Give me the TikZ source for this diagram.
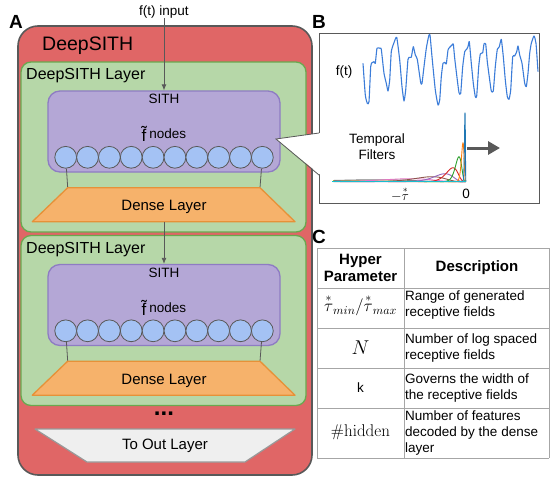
\RequirePackage{fix-cm}
\documentclass[tikz,border=0pt]{standalone}
\usepackage{amsmath}
\usepackage[no-math]{fontspec}
\setmainfont{Liberation Sans}
\usetikzlibrary{arrows.meta,calc,positioning}
\definecolor{sithred}{HTML}{E06666}
\definecolor{edgegray}{HTML}{595959}
\definecolor{layergreen}{HTML}{B6D7A8}
\definecolor{layeredge}{HTML}{6AA84F}
\definecolor{sithpurple}{HTML}{B4A7D6}
\definecolor{sithedge}{HTML}{8E7CC3}
\definecolor{nodeblue}{HTML}{A4C2F4}
\definecolor{denseorange}{HTML}{F6B26B}
\definecolor{denseedge}{HTML}{E69138}
\definecolor{outgray}{HTML}{EFEFEF}
\definecolor{outedge}{HTML}{999999}
\definecolor{signalblue}{HTML}{3C7DD9}
\definecolor{gridgray}{HTML}{A6A6A6}
\definecolor{fC0}{HTML}{1F77B4}
\definecolor{fC1}{HTML}{FF7F0E}
\definecolor{fC2}{HTML}{2CA02C}
\definecolor{fC3}{HTML}{D62728}
\definecolor{fC4}{HTML}{9467BD}
\definecolor{fC5}{HTML}{8C564B}
\definecolor{fC6}{HTML}{E377C2}
\definecolor{fC7}{HTML}{7F7F7F}
\definecolor{fC8}{HTML}{BCBD22}
\definecolor{fC9}{HTML}{17BECF}
\newcommand{\setfs}[2]{\fontsize{#1}{#2}\selectfont}

\begin{document}
\begin{tikzpicture}[x=1pt,y=-1pt,
  outerbox/.style={draw=edgegray,line width=1.6pt,fill=sithred,rounded corners=20pt,inner sep=0pt},
  layerbox/.style={draw=layeredge,line width=1.3pt,fill=layergreen,rounded corners=10pt,inner sep=0pt,minimum width=285pt,minimum height=170pt},
  sithbox/.style={draw=sithedge,line width=1.3pt,fill=sithpurple,rounded corners=12pt,inner sep=0pt,minimum width=232pt,minimum height=81pt},
  fnode/.style={circle,draw=edgegray,line width=0.8pt,fill=nodeblue,minimum size=21.8pt,inner sep=0pt},
  denselayer/.style={draw=denseedge,line width=1.3pt,fill=denseorange,line join=round},
  outlayer/.style={draw=outedge,line width=1.2pt,fill=outgray,line join=round},
  wire/.style={draw=edgegray,line width=0.8pt},
  feed/.style={wire,-{Latex[length=6pt,width=5pt]}},
  lbl/.style={inner sep=0pt,font=\setfs{13.5}{16}},
  panel/.style={inner sep=0pt,font=\bfseries\setfs{19}{19}},
  filter/.style={line width=0.9pt,line join=round},
  grid/.style={draw=gridgray,line width=1pt},
  hdr/.style={inner sep=0pt,font=\bfseries\setfs{15}{17},align=center},
  desc/.style={inner sep=0pt,anchor=west,align=left,font=\setfs{13.5}{16}}]
\useasboundingbox (0,0) rectangle (552,479);

\node[panel] (labA) at (16,22) {A};
\node[outerbox,minimum width=294pt,minimum height=449pt] (deepsith) at (165,250.5) {};
\node[inner sep=0pt,anchor=west,font=\setfs{19.5}{20}] (deepsithtxt) at (42,46) {DeepSITH};
\node[lbl] (input) at (164,12) {f(t) input};

\foreach \l/\dy in {1/0,2/173.5}{
  \node[layerbox] (layer\l) at (163.5,147+\dy) {};
  \node[inner sep=0pt,anchor=west,font=\setfs{16}{16}] (layertxt\l) at (26,76+\dy) {DeepSITH Layer};
  \node[sithbox] (sith\l) at (164,131.5+\dy) {};
  \node[lbl] (sithtxt\l) at (164,99+\dy) {SITH};
  \node[lbl] (ftilde\l) at (164,134+\dy) {\raisebox{-3pt}{\setfs{17}{17}f\char"0303}\hspace{3pt}nodes};
  \foreach \i in {1,...,10}
    \node[fnode] (f\l-\i) at ({65.7+21.85*(\i-1)},157.3+\dy) {};
  \coordinate (dtl\l) at (67.7,187.7+\dy);
  \coordinate (dtr\l) at (260,187.7+\dy);
  \coordinate (dbr\l) at (295,221.7+\dy);
  \coordinate (dbl\l) at (32.3,221.7+\dy);
  \coordinate (dense\l) at (164,221.7+\dy);
  \draw[wire] (f\l-1) -- (dtl\l);
  \draw[wire] (f\l-10) -- (dtr\l);
  \draw[denselayer] (dtl\l) -- (dtr\l) -- (dbr\l) -- (dbl\l) -- cycle;
  \node[inner sep=0pt,font=\setfs{15}{15}] (densetxt\l) at (164,207+\dy) {Dense Layer};
}
\draw[feed] (input) -- (sith1);
\draw[feed] (dense1) -- (sith2.north);

\node[inner sep=0pt,font=\bfseries\setfs{24}{24}] (dots) at (164,414) {...};
\draw[outlayer] (35,429) -- (295,429) -- (245,462) -- (87,462) -- cycle;
\node[inner sep=0pt,font=\setfs{15}{15}] (outtxt) at (165,446) {To Out Layer};

\node[panel] (labB) at (319,22) {B};
\node[draw=edgegray,line width=1pt,fill=white,minimum width=220pt,minimum height=170pt,inner sep=0pt] (panelB) at (429,118) {};
\coordinate (tip) at (276,139);
\coordinate (cu) at (319,133);
\coordinate (cl) at (319,175);
\fill[white] (tip) -- ($(cu)+(1.5,0)$) -- ($(cl)+(1.5,0)$) -- cycle;
\draw[wire,line join=miter] (cu) -- (tip) -- (cl);

\draw[signalblue,line width=1.1pt,line join=round] plot[smooth,tension=0.3] coordinates {
(363,63.3) (365.3,95) (367.3,103.3) (369,101.7) (370.7,66.7) (372,62.7) (374,61.7) (375.3,63.3)
(377,48.3) (380,48.3) (381.3,49.3) (384,73.3) (386.3,83.3) (388,91) (389.7,80) (391.3,51.7)
(394,42.7) (396.7,37.3) (399.7,60) (402,86.7) (404,101) (405.7,90) (408,59.3) (410,57.3)
(411.3,57.3) (413.3,46.7) (415.3,55) (417.3,59.3) (420.7,82.7) (422,83.3) (424,66.7) (426.3,48.3)
(428.7,36) (430,35) (432,56.7) (435.3,90) (438,105) (439.7,100) (441.3,76.7) (443,63.3)
(444.7,62.3) (446.3,64) (448,50) (449.7,47.3) (452,45) (453.3,44) (454.7,58.3) (457.3,80)
(459,92.7) (460.7,93.3) (462.7,66.7) (464.7,51.7) (466.7,49.3) (468,46.7) (469.3,41.7) (471.3,63.3)
(473.3,83.3) (475.3,96.7) (476.7,96) (478.7,66.7) (480.3,54) (482.7,52.7) (484,44) (485.7,44)
(487.3,61.7) (489.7,80) (491.3,91) (493.3,91) (495.3,66.7) (497.3,49.3) (499.3,46.7) (501.3,39.3)
(503.3,56.7) (505.3,80) (507.3,96.7) (509,99.3) (510.7,90) (512.7,56.7) (514.7,56) (516.7,51.7)
(518,46) (519.7,55) (522,63.3) (524.7,83.3) (526.3,86.7) (528,73.3) (529.7,53.3) (531.3,43.3)
(534,36) (536,43.3) (538,71.7)};
\node[lbl] (ftlbl) at (344,72) {f(t)};

\foreach \p/\h/\u/\c in {140/1.2/0.95/fC8,88/2/1.5/fC7,55/3/2.4/fC6,34/5/3.9/fC5,21/8/6/fC4,13/14/6/fC3,7/25/6/fC2,3/39/6/fC1,1/69/6/fC0}
  \draw[filter,\c] plot[domain=0.02:\u,samples=60] ({466-\x*\p},{181.7-\h*exp(5*(ln(\x)+1-\x))});
\draw[filter,fC9] (332,181.7) -- (466,181.7);
\node[lbl,align=center] (tempf) at (377,147) {Temporal\\Filters};
\node[lbl] (tauLbl) at (400,194) {$-\overset{*}{\tau}$};
\node[lbl] (zeroLbl) at (466,194) {0};
\coordinate (shiftS) at (467,148);
\coordinate (shiftE) at (500,148);
\draw[edgegray,line width=3pt,-{Triangle[length=12pt,width=13pt]}] (shiftS) -- (shiftE);

\node[panel] (labC) at (319,237) {C};
\foreach \y in {248,288,328,368,408,458}
  \draw[grid] (317,\y) -- (549,\y);
\foreach \x in {317,404,549}
  \draw[grid] (\x,248) -- (\x,458);
\node[hdr] (hHyper) at (360.5,268) {Hyper\\Parameter};
\node[hdr] (hDesc) at (477,268) {Description};
\node[lbl] (pTau) at (360.5,305) {\setfs{17}{17}$\overset{*}{\tau}_{min}/\overset{*}{\tau}_{max}$};
\node[lbl] (pN) at (360.5,348) {\setfs{20}{20}$N$};
\node[lbl] (pK) at (360.5,388) {k};
\node[lbl] (pHidden) at (360.5,432) {\setfs{17}{17}$\#\mathrm{hidden}$};
\node[desc] (dTau) at (405,305) {Range of generated\\receptive fields};
\node[desc] (dN) at (405,348) {Number of log spaced\\receptive fields};
\node[desc] (dK) at (405,388) {Governs the width of\\the receptive fields};
\node[desc] (dHidden) at (405,433) {Number of features\\decoded by the dense\\layer};
\end{tikzpicture}
\end{document}
